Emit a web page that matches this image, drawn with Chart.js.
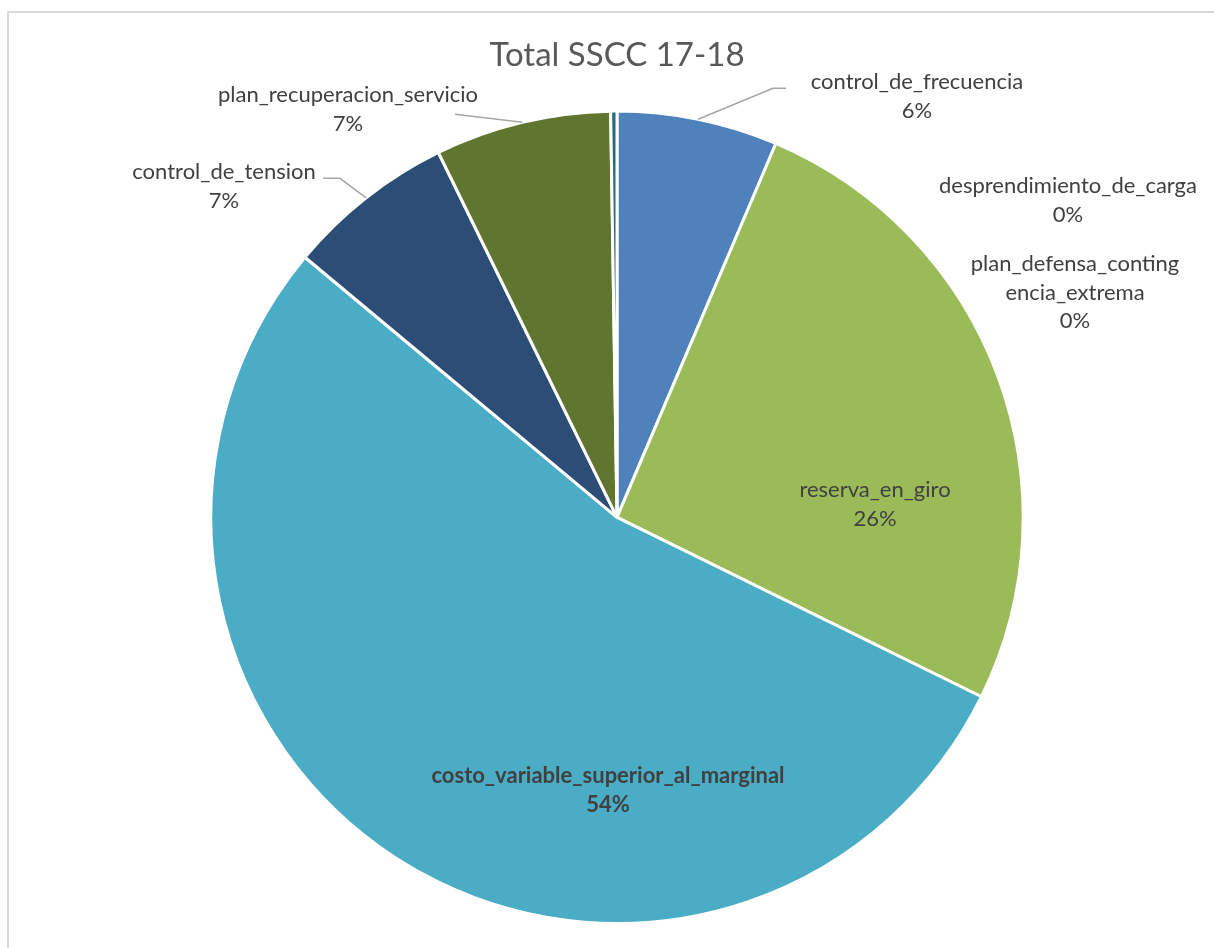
<!DOCTYPE html>
<html>
<head>
<meta charset="utf-8">
<title>Total SSCC 17-18</title>
<script src="https://cdn.jsdelivr.net/npm/chart.js@4.4.0/dist/chart.umd.min.js"></script>
<style>
    html, body { margin: 0; padding: 0; background: #ffffff; }
    #wrap { position: relative; width: 1214px; height: 948px; }
</style>
</head>
<body>
<div id="wrap">
    <canvas id="ssccChart" width="1214" height="948"></canvas>
</div>
<script>
// Data (shares of the total, in %)
const categories = [
    'control_de_frecuencia',
    'desprendimiento_de_carga',
    'plan_defensa_contingencia_extrema',
    'reserva_en_giro',
    'costo_variable_superior_al_marginal',
    'control_de_tension',
    'plan_recuperacion_servicio',
    'otros'
];
const shares = [6.4, 0, 0, 25.9, 53.8, 6.7, 7.0, 0.25];
const sliceColors = ['#4F81BD', '#C0504D', '#8064A2', '#9BBB59', '#4BACC6', '#2C4D75', '#5F7530', '#276A7C'];

// Label placement (px, relative to the pie centre), by category index
const labelLayout = {
    0: { x: 300, y: -435, leader: [[156, -429], [169, -429]] },
    1: { x: 451, y: -331 },
    2: { x: 458, y: -253, wrap: 20 },
    3: { x: 258, y: -27 },
    4: { x: -9, y: 259, bold: true },
    5: { x: -393, y: -345, leader: [[-277, -339], [-294, -339]] },
    6: { x: -269, y: -422, leader: [[-162, -403]] }
};

const frame = {
    id: 'frame',
    beforeDraw(chart) {
        const ctx = chart.ctx;
        ctx.save();
        ctx.strokeStyle = '#d9d9d9';
        ctx.lineWidth = 2;
        ctx.strokeRect(8, 12, 1400, 1200);
        ctx.restore();
    }
};

const sliceLabels = {
    id: 'sliceLabels',
    afterDatasetsDraw(chart) {
        const ctx = chart.ctx;
        const meta = chart.getDatasetMeta(0);
        const values = chart.data.datasets[0].data;
        const total = values.reduce((a, b) => a + b, 0);
        ctx.save();
        meta.data.forEach((arc, i) => {
            const cfg = labelLayout[i];
            if (!cfg) return;
            const p = arc.getProps(['x', 'y', 'startAngle', 'endAngle', 'outerRadius'], true);
            const cx = p.x, cy = p.y;

            if (cfg.leader) {
                const mid = (p.startAngle + p.endAngle) / 2;
                ctx.strokeStyle = '#a6a6a6';
                ctx.lineWidth = 1.5;
                ctx.beginPath();
                ctx.moveTo(cx + Math.cos(mid) * p.outerRadius, cy + Math.sin(mid) * p.outerRadius);
                cfg.leader.forEach(pt => ctx.lineTo(cx + pt[0], cy + pt[1]));
                ctx.stroke();
            }

            const name = chart.data.labels[i];
            const lines = [];
            if (cfg.wrap) {
                for (let k = 0; k < name.length; k += cfg.wrap) lines.push(name.slice(k, k + cfg.wrap));
            } else {
                lines.push(name);
            }
            lines.push(Math.round(values[i] / total * 100) + '%');

            ctx.fillStyle = '#404040';
            ctx.font = (cfg.bold ? 'bold ' : '') + '22px Lato, "Open Sans", sans-serif';
            ctx.textAlign = 'center';
            ctx.textBaseline = 'middle';
            lines.forEach((t, k) => ctx.fillText(t, cx + cfg.x, cy + cfg.y + k * 28.5));
        });
        ctx.restore();
    }
};

new Chart(document.getElementById('ssccChart'), {
    type: 'pie',
    data: {
        labels: categories,
        datasets: [{
            data: shares,
            backgroundColor: sliceColors,
            borderColor: '#ffffff',
            borderWidth: 3
        }]
    },
    options: {
        responsive: false,
        animation: false,
        events: [],
        layout: {
            padding: { left: 20, right: 0, top: 0, bottom: 23 }
        },
        plugins: {
            legend: { display: false },
            tooltip: { enabled: false },
            title: {
                display: true,
                text: 'Total SSCC 17-18',
                color: '#595959',
                font: { family: 'Lato, "Open Sans", sans-serif', size: 33, weight: 'normal', lineHeight: 1.2 },
                padding: { top: 36, bottom: 34 }
            }
        }
    },
    plugins: [frame, sliceLabels]
});
</script>
</body>
</html>
